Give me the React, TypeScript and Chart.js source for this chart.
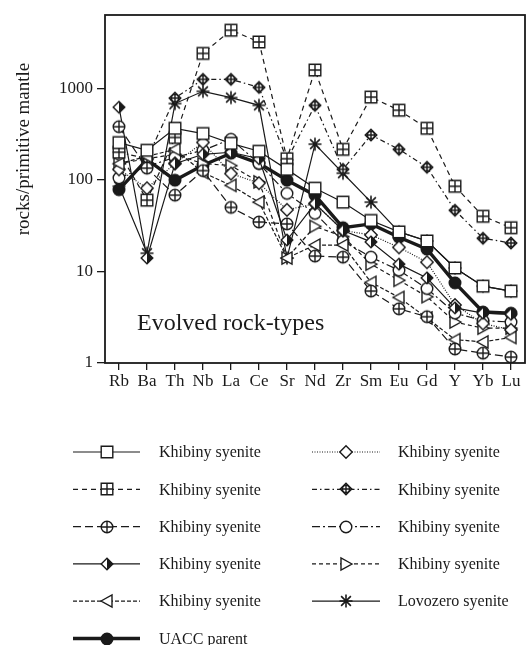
import React, { useEffect, useRef } from "react";
import { Chart, registerables } from "chart.js";

Chart.register(...registerables);

const categories = ["Rb", "Ba", "Th", "Nb", "La", "Ce", "Sr", "Nd", "Zr", "Sm", "Eu", "Gd", "Y", "Yb", "Lu"];
const yTickValues = [1, 10, 100, 1000];

const khibinySquare = [255, 210, 365, 320, 250, 205, 130, 81, 57, 36, 27, 21.5, 10.9, 6.9, 6.1];
const khibinyBoxPlus = [200, 60, 290, 2400, 4300, 3200, 170, 1580, 215, 800, 575, 365, 85, 40, 30];
const khibinyCirclePlus = [380, 134, 68, 126, 50, 34.6, 33, 14.7, 14.3, 6.1, 3.9, 3.2, 1.42, 1.28, 1.16];
const khibinyHalfDiamond = [620, 14, 150, 190, 200, 170, 22, 55, 28, 21, 12, 8.5, 4, 3.5, 3.4];
const khibinyLeftTri = [150, 180, 215, 120, 87, 57, 14, 19.4, 19.4, 7.6, 5.2, 3.1, 1.8, 1.7, 1.9];
const khibinyDiamond = [130, 81, 151, 256, 117, 92, 47, 55, 28, 25, 18.3, 12.6, 4.3, 2.7, 2.3];
const khibinyDiamondPlus = [200, 170, 780, 1250, 1250, 1020, 165, 650, 130, 308, 215, 137, 46.5, 23, 20.4];
const khibinyCircle = [105, 140, 176, 210, 277, 151, 71, 43, 21.4, 14.3, 10.3, 6.5, 3.5, 2.9, 2.8];
const khibinyRightTri = [150, 170, 190, 150, 143, 95, 14, 31, 24, 12, 8, 5.3, 2.8, 2.4, 2.4];
const lovozero = [85, 15.8, 680, 925, 790, 650, 14, 245, 118, 57, 27, 21.5, 10.9, 6.9, 6.1];
const uaccParent = [78, 167, 99, 144, 195, 151, 99, 68, 30, 33, 23.6, 17.5, 7.5, 3.6, 3.5];

const labels = [
  "Khibiny syenite", "Khibiny syenite", "Khibiny syenite", "Khibiny syenite", "Khibiny syenite",
  "Khibiny syenite", "Khibiny syenite", "Khibiny syenite", "Khibiny syenite", "Lovozero syenite", "UACC parent",
];

const INK = "#1a1a1a";
const SERIF = "'Liberation Serif', 'DejaVu Serif', serif";

type MarkerKind = "square" | "boxplus" | "circleplus" | "halfdiamond" | "lefttri" | "diamond" | "diamondplus" | "circle" | "righttri" | "asterisk" | "filled";

function makeMarker(kind: MarkerKind): HTMLCanvasElement {
  const s = 18;
  const c = document.createElement("canvas");
  c.width = s;
  c.height = s;
  const g = c.getContext("2d")!;
  const m = s / 2;
  g.strokeStyle = INK;
  g.fillStyle = "#fff";
  g.lineWidth = 1.4;
  g.lineJoin = "miter";
  const r = 5.8;
  if (kind === "square" || kind === "boxplus") {
    g.beginPath();
    g.rect(m - r, m - r, 2 * r, 2 * r);
    g.fill();
    g.stroke();
    if (kind === "boxplus") {
      g.beginPath();
      g.moveTo(m, m - r);
      g.lineTo(m, m + r);
      g.moveTo(m - r, m);
      g.lineTo(m + r, m);
      g.stroke();
    }
  } else if (kind === "circle" || kind === "circleplus" || kind === "filled") {
    g.beginPath();
    g.arc(m, m, r, 0, Math.PI * 2);
    if (kind === "filled") g.fillStyle = INK;
    g.fill();
    g.stroke();
    if (kind === "circleplus") {
      g.beginPath();
      g.moveTo(m, m - r);
      g.lineTo(m, m + r);
      g.moveTo(m - r, m);
      g.lineTo(m + r, m);
      g.stroke();
    }
  } else if (kind === "diamond" || kind === "diamondplus" || kind === "halfdiamond") {
    const d = kind === "diamond" ? 6.2 : 5.8;
    g.beginPath();
    g.moveTo(m, m - d);
    g.lineTo(m + d, m);
    g.lineTo(m, m + d);
    g.lineTo(m - d, m);
    g.closePath();
    g.fill();
    g.stroke();
    if (kind === "diamondplus") {
      g.beginPath();
      g.arc(m, m, d * 0.62, 0, Math.PI * 2);
      g.moveTo(m, m - d);
      g.lineTo(m, m + d);
      g.moveTo(m - d, m);
      g.lineTo(m + d, m);
      g.stroke();
    }
    if (kind === "halfdiamond") {
      g.fillStyle = INK;
      g.beginPath();
      g.moveTo(m, m - d);
      g.lineTo(m + d, m);
      g.lineTo(m, m + d);
      g.closePath();
      g.fill();
    }
  } else if (kind === "lefttri" || kind === "righttri") {
    const dir = kind === "righttri" ? 1 : -1;
    g.beginPath();
    g.moveTo(m + dir * 6, m);
    g.lineTo(m - dir * 5, m - 6);
    g.lineTo(m - dir * 5, m + 6);
    g.closePath();
    g.fill();
    g.stroke();
  } else if (kind === "asterisk") {
    g.lineWidth = 1.6;
    g.beginPath();
    const a = 6.5;
    g.moveTo(m, m - a);
    g.lineTo(m, m + a);
    g.moveTo(m - a, m);
    g.lineTo(m + a, m);
    const b = a * 0.75;
    g.moveTo(m - b, m - b);
    g.lineTo(m + b, m + b);
    g.moveTo(m - b, m + b);
    g.lineTo(m + b, m - b);
    g.stroke();
  }
  return c;
}

interface SeriesDef {
  data: number[];
  kind: MarkerKind;
  dash: number[];
  width: number;
}

const seriesDefs: SeriesDef[] = [
  { data: khibinySquare, kind: "square", dash: [], width: 1.2 },
  { data: khibinyBoxPlus, kind: "boxplus", dash: [5, 4], width: 1.2 },
  { data: khibinyCirclePlus, kind: "circleplus", dash: [8, 4], width: 1.2 },
  { data: khibinyHalfDiamond, kind: "halfdiamond", dash: [], width: 1.2 },
  { data: khibinyLeftTri, kind: "lefttri", dash: [4, 2], width: 1.2 },
  { data: khibinyDiamond, kind: "diamond", dash: [1, 1.5], width: 1.2 },
  { data: khibinyDiamondPlus, kind: "diamondplus", dash: [5, 3, 1.5, 3], width: 1.2 },
  { data: khibinyCircle, kind: "circle", dash: [8, 3, 2, 3], width: 1.2 },
  { data: khibinyRightTri, kind: "righttri", dash: [4, 3], width: 1.2 },
  { data: lovozero, kind: "asterisk", dash: [], width: 1.2 },
  { data: uaccParent, kind: "filled", dash: [], width: 3.4 },
];

const legendOrder = [
  [0, 1, 2, 3, 4, 10],
  [5, 6, 7, 8, 9],
];

export default function App() {
  const ref = useRef<HTMLCanvasElement | null>(null);
  useEffect(() => {
    if (!ref.current) return;
    const markers = seriesDefs.map((s) => makeMarker(s.kind));

    const overlay = {
      id: "overlay",
      afterDraw(chart: any) {
        const ctx = chart.ctx as CanvasRenderingContext2D;
        const a = chart.chartArea;
        ctx.save();
        // frame
        ctx.strokeStyle = INK;
        ctx.lineWidth = 1.8;
        ctx.strokeRect(a.left, a.top, a.right - a.left, a.bottom - a.top);
        // inner label
        ctx.fillStyle = INK;
        ctx.font = `24px ${SERIF}`;
        ctx.textAlign = "left";
        ctx.textBaseline = "middle";
        ctx.fillText("Evolved rock-types", 137, 324);
        // y title
        ctx.save();
        ctx.translate(24, 149);
        ctx.rotate(-Math.PI / 2);
        ctx.textAlign = "center";
        ctx.font = `19px ${SERIF}`;
        ctx.fillText("rocks/primitive mantle", 0, 0);
        ctx.restore();
        // legend
        const colX = [[73, 140, 159], [312, 380, 398]];
        const rowY0 = 452;
        const rowStep = 37.3;
        legendOrder.forEach((col, ci) => {
          col.forEach((si, ri) => {
            const s = seriesDefs[si];
            const y = rowY0 + ri * rowStep;
            const [x0, x1, tx] = colX[ci];
            ctx.beginPath();
            ctx.setLineDash(s.dash);
            ctx.lineWidth = s.width;
            ctx.strokeStyle = INK;
            ctx.moveTo(x0, y);
            ctx.lineTo(x1, y);
            ctx.stroke();
            ctx.setLineDash([]);
            const mk = markers[si];
            ctx.drawImage(mk, Math.round((x0 + x1) / 2 - mk.width / 2), Math.round(y - mk.height / 2));
            ctx.fillStyle = INK;
            ctx.font = `16px ${SERIF}`;
            ctx.textAlign = "left";
            ctx.textBaseline = "middle";
            ctx.fillText(labels[si], tx, y + 1);
          });
        });
        ctx.restore();
      },
    };

    const chart = new Chart(ref.current, {
      type: "line",
      data: {
        labels: categories,
        datasets: seriesDefs.map((s, i) => ({
          label: labels[i],
          data: s.data,
          borderColor: INK,
          borderWidth: s.width,
          borderDash: s.dash,
          pointStyle: markers[i] as any,
          pointRadius: 6,
          pointHoverRadius: 6,
          tension: 0,
          fill: false,
        })),
      },
      options: {
        animation: false,
        responsive: false,
        maintainAspectRatio: false,
        events: [],
        layout: { autoPadding: false, padding: { left: 0, top: 15, right: 1, bottom: 252 } },
        plugins: { legend: { display: false }, tooltip: { enabled: false } },
        scales: {
          x: {
            type: "category",
            offset: true,
            border: { display: false },
            grid: { drawOnChartArea: false, drawTicks: true, tickLength: 7, color: INK, lineWidth: 1.3, offset: false },
            ticks: { color: INK, font: { family: SERIF, size: 17 }, padding: 1, maxRotation: 0, autoSkip: false },
            afterFit: (sc: any) => { sc.height = 30; sc.paddingLeft = 0; sc.paddingRight = 0; },
          },
          y: {
            type: "logarithmic",
            min: 1,
            max: 6300,
            border: { display: false },
            grid: { drawOnChartArea: false, drawTicks: true, tickLength: 8, color: INK, lineWidth: 1.3 },
            ticks: { color: INK, font: { family: SERIF, size: 17 }, padding: 4, callback: (v: any) => String(v) },
            afterBuildTicks: (sc: any) => { sc.ticks = yTickValues.map((v) => ({ value: v })); },
            afterFit: (sc: any) => { sc.width = 105; sc.paddingTop = 0; sc.paddingBottom = 0; },
          },
        },
      },
      plugins: [overlay],
    });
    return () => chart.destroy();
  }, []);
  return (
    <div style={{ position: "fixed", left: 0, top: 0, width: 526, height: 645, background: "#fff" }}>
      <canvas ref={ref} width={526} height={645} style={{ width: 526, height: 645, display: "block" }} />
    </div>
  );
}
